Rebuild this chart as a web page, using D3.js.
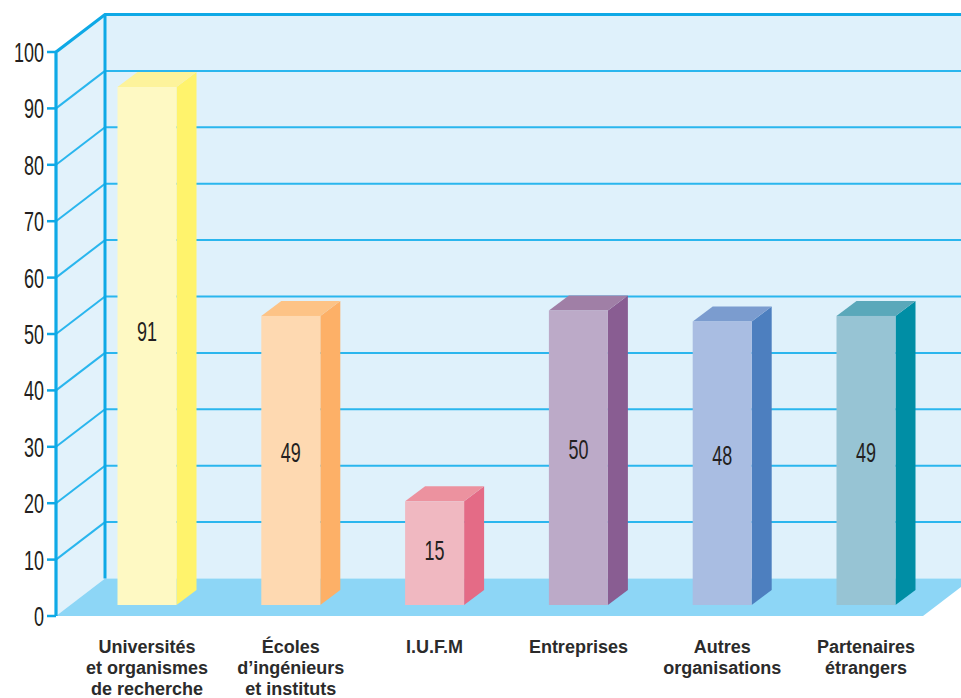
<!DOCTYPE html>
<html>
<head>
<meta charset="utf-8">
<script src="https://cdn.jsdelivr.net/npm/d3@7"></script>
<style>
  body { margin: 0; background: #fff; }
  svg { display: block; }
</style>
</head>
<body>
<script>
// chart data
var categories = [
  "Universités\net organismes\nde recherche",
  "Écoles\nd’ingénieurs\net instituts",
  "I.U.F.M",
  "Entreprises",
  "Autres\norganisations",
  "Partenaires\nétrangers"
];
var values = [91, 49, 15, 50, 48, 49];
var tickValues = d3.range(0, 101, 10);

// bar colours: front face, side, top
var frontColors = ["#fef9c3", "#fed9b1", "#f0b8c1", "#bcaac8", "#a9bde2", "#97c4d4"];
var sideColors  = ["#fff36c", "#fdb067", "#e46b86", "#895d92", "#4d7fbf", "#008ea5"];
var topColors   = ["#fdf39b", "#fdc386", "#ec929f", "#a07fa6", "#7b9ccf", "#5aa8ba"];

var W = 961, H = 698;
var depthX = 49, depthY = -37.5;      // wall depth offset
var barDX = 20, barDY = -15;          // bar depth offset
var barW = 59, barBase = 605;
var axisColor = "#0ea9e6", gridColor = "#2ab6ee";
var numFont = "'Liberation Sans', Arial, sans-serif";
var digitW = 10;                      // condensed look: squeeze digits to this width

var svg = d3.select("body").append("svg")
  .attr("width", W)
  .attr("height", H);

// scales
var yFront = d3.scaleLinear().domain([0, 100]).range([616, 52]);
var yBack = function(v) { return yFront(v) + depthY; };
var yBar = d3.scaleLinear().domain([0, 100]).range([583, 38]);
var x = d3.scalePoint().domain(categories).range([147, 866]);

var x0 = 56, xB = x0 + depthX;

// squeeze a number text horizontally so it looks like a condensed face
function condense(sel, tx, ty) {
  sel.each(function() {
    var t = d3.select(this);
    var w = this.getComputedTextLength();
    var n = t.text().length;
    var s = w > 0 ? (digitW * n) / w : 1;
    t.attr("transform", "translate(" + tx + "," + ty + ") scale(" + s + ",1)");
  });
}

// back wall
svg.append("rect")
  .attr("x", xB).attr("y", yBack(100))
  .attr("width", W - xB + 20).attr("height", yBack(0) - yBack(100))
  .attr("fill", "#dff1fb");

// left wall
svg.append("path")
  .attr("d", "M" + x0 + "," + yFront(100) + "L" + xB + "," + yBack(100) +
       "L" + xB + "," + yBack(0) + "L" + x0 + "," + yFront(0) + "Z")
  .attr("fill", "#e2f2fb");

// floor
var floorRight = 923;
svg.append("path")
  .attr("d", "M" + x0 + "," + yFront(0) + "L" + xB + "," + yBack(0) +
       "L" + (floorRight + depthX) + "," + yBack(0) + "L" + floorRight + "," + yFront(0) + "Z")
  .attr("fill", "#8dd6f6");

// grid lines on back wall and left wall
var gridVals = tickValues.filter(function(d) { return d > 0 && d < 100; });
svg.selectAll(".gridBack").data(gridVals).enter().append("line")
  .attr("x1", xB).attr("x2", W + 5)
  .attr("y1", function(d) { return yBack(d); })
  .attr("y2", function(d) { return yBack(d); })
  .attr("stroke", gridColor).attr("stroke-width", 2);

svg.selectAll(".gridSide").data(gridVals).enter().append("line")
  .attr("x1", x0).attr("x2", xB)
  .attr("y1", function(d) { return yFront(d); })
  .attr("y2", function(d) { return yBack(d); })
  .attr("stroke", gridColor).attr("stroke-width", 2);

// frame lines
svg.append("path")
  .attr("d", "M" + x0 + "," + yFront(0) + "L" + x0 + "," + yFront(100) +
       "L" + xB + "," + yBack(100) + "L" + (W + 5) + "," + yBack(100))
  .attr("fill", "none").attr("stroke", axisColor).attr("stroke-width", 3.2);
svg.append("line")
  .attr("x1", xB).attr("x2", xB)
  .attr("y1", yBack(100)).attr("y2", yBack(0))
  .attr("stroke", axisColor).attr("stroke-width", 3);

// ticks and tick labels
svg.selectAll(".tick").data(tickValues).enter().append("line")
  .attr("x1", x0 - 9).attr("x2", x0)
  .attr("y1", function(d) { return yFront(d); })
  .attr("y2", function(d) { return yFront(d); })
  .attr("stroke", axisColor).attr("stroke-width", 2.5);

svg.selectAll(".tickLabel").data(tickValues).enter().append("text")
  .attr("dy", "0.36em")
  .attr("text-anchor", "end")
  .style("font-family", numFont)
  .style("font-size", "28px")
  .style("fill", "#231f20")
  .text(function(d) { return d; })
  .each(function(d) { condense(d3.select(this), x0 - 12, yFront(d)); });

// bars
var bars = svg.selectAll(".bar").data(values).enter().append("g");

bars.each(function(v, i) {
  var g = d3.select(this);
  var left = x(categories[i]) - barW / 2;
  var right = left + barW;
  var top = yBar(v);
  // side
  g.append("path")
    .attr("d", "M" + right + "," + top + "L" + (right + barDX) + "," + (top + barDY) +
         "L" + (right + barDX) + "," + (barBase + barDY) + "L" + right + "," + barBase + "Z")
    .attr("fill", sideColors[i]);
  // top
  g.append("path")
    .attr("d", "M" + left + "," + top + "L" + (left + barDX) + "," + (top + barDY) +
         "L" + (right + barDX) + "," + (top + barDY) + "L" + right + "," + top + "Z")
    .attr("fill", topColors[i]);
  // front
  g.append("rect")
    .attr("x", left).attr("y", top)
    .attr("width", barW).attr("height", barBase - top)
    .attr("fill", frontColors[i]);
  // value label
  var lbl = g.append("text")
    .attr("dy", "0.36em")
    .attr("text-anchor", "middle")
    .style("font-family", numFont)
    .style("font-size", "28px")
    .style("fill", "#231f20")
    .text(v);
  condense(lbl, left + barW / 2, top + (barBase - top) * 0.47);
});

// category labels
var labels = svg.selectAll(".catLabel").data(categories).enter().append("text")
  .attr("x", function(d) { return x(d); })
  .attr("y", 653)
  .attr("text-anchor", "middle")
  .style("font-family", "'Liberation Sans', Arial, sans-serif")
  .style("font-weight", "bold")
  .style("font-size", "18px")
  .style("fill", "#2b2b2b");

labels.each(function(d) {
  var t = d3.select(this);
  d.split("\n").forEach(function(line, j) {
    t.append("tspan")
      .attr("x", x(d))
      .attr("dy", j === 0 ? 0 : 21)
      .text(line);
  });
});
</script>
</body>
</html>
